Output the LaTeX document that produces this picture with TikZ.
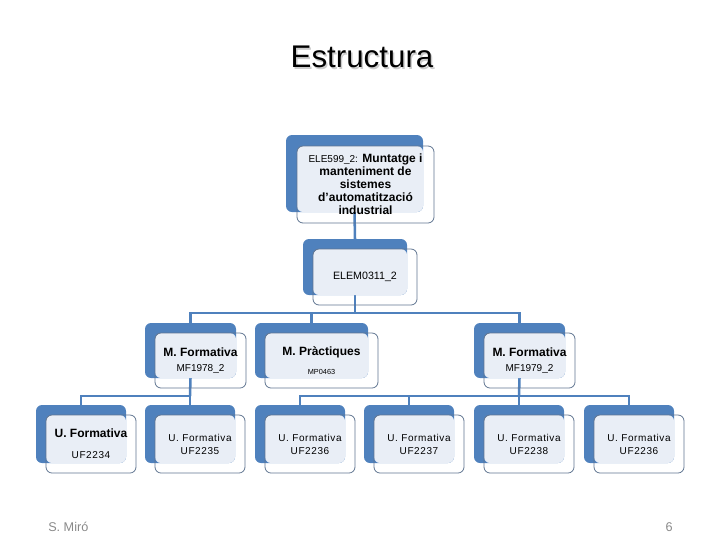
\documentclass[tikz,border=0pt]{standalone}
\usepackage{fontspec}
\setmainfont{Liberation Sans}
\newfontfamily\spacedfont[LetterSpace=6]{Liberation Sans}
\definecolor{blueback}{HTML}{4F81BD}
\definecolor{lightfill}{HTML}{E9EEF6}
\definecolor{frontline}{HTML}{5F7490}
\definecolor{footgray}{HTML}{898989}
\tikzset{
  backbox/.style={fill=blueback, rounded corners=4.5pt},
  lightbox/.style={fill=lightfill, rounded corners=4.5pt},
  frontbox/.style={draw=frontline, line width=0.6pt, rounded corners=4.5pt},
  boxtext/.style={inner sep=0pt, align=center, text=black},
  conn/.style={draw=blueback, line width=1.9pt},
}
% name, x, y, w, h, offset, font, text
\newcommand\orgbox[8]{%
  \fill[backbox] (#2,#3) rectangle ++(#4,#5);
  \fill[lightbox] (#2+#6,#3+#6) rectangle (#2+#4,#3+#5);
  \draw[frontbox] (#2+#6,#3+#6) rectangle ++(#4,#5);
  \node[boxtext, font=#7] (#1) at (#2+#6+#4/2,#3+#6+#5/2) {#8};
}
\newcommand\orgpts[5]{% name, x, y, w, h
  \coordinate (#1-t) at (#2+#4/2,#3);
  \coordinate (#1-b) at (#2+#4/2,#3+#5);
}
\newcommand\boldnine{\fontsize{9}{9.75}\selectfont\bfseries}
\newcommand\smallspaced{\spacedfont\fontsize{7.5}{9.75}\selectfont}
\begin{document}
\begin{tikzpicture}[x=0.75pt,y=-0.75pt]
\useasboundingbox (0,0) rectangle (720,540);
% title
\node[text=gray!40, font=\fontsize{23.5}{28}\selectfont] at (363.5,58.5) {Estructura};
\node (title) [text=black, font=\fontsize{23.5}{28}\selectfont] at (362,57) {Estructura};
% connector anchor points
\orgpts{top}{286}{135}{137}{77}
\orgpts{elem}{303}{239}{104}{56}
\orgpts{mf1}{145}{323}{91}{55}
\orgpts{mp}{255}{323}{113}{55}
\orgpts{mf2}{474}{323}{91}{55}
\orgpts{u1}{36}{405}{90}{58}
\orgpts{u2}{145}{405}{90}{58}
\orgpts{u3}{255}{405}{90}{58}
\orgpts{u4}{364}{405}{90}{58}
\orgpts{u5}{474}{405}{90}{58}
\orgpts{u6}{584}{405}{90}{58}
% connectors
\coordinate (barA) at (355,313);
\coordinate (barB) at (190,396);
\coordinate (barC) at (519,396);
\draw[conn] (top-b) -- (elem-t);
\draw[conn] (elem-b) -- (barA);
\draw[conn] (barA) -| (mf1-t);
\draw[conn] (barA) -| (mp-t);
\draw[conn] (barA) -| (mf2-t);
\draw[conn] (mf1-b) -- (barB);
\draw[conn] (barB) -| (u1-t);
\draw[conn] (barB) -| (u2-t);
\draw[conn] (mf2-b) -- (barC);
\draw[conn] (barC) -| (u3-t);
\draw[conn] (barC) -| (u4-t);
\draw[conn] (barC) -| (u5-t);
\draw[conn] (barC) -| (u6-t);
% boxes
\orgbox{topbox}{286}{135}{137}{77}{11}{\boldnine}{{\mdseries\fontsize{7.5}{9.75}\selectfont ELE599\_2:} Muntatge i\\manteniment de\\sistemes\\d'automatització\\industrial}
\orgbox{elembox}{303}{239}{104}{56}{10}{\fontsize{8}{10}\selectfont}{ELEM0311\_2}
\orgbox{mf1box}{145}{323}{91}{55}{10}{\fontsize{9}{10.5}\selectfont}{{\bfseries M. Formativa}\\[0.3pt]{\fontsize{7.5}{9}\selectfont MF1978\_2}}
\orgbox{mpbox}{255}{323}{113}{55}{10}{\fontsize{9}{10.5}\selectfont}{{\bfseries M. Pràctiques}\\[3.5pt]{\fontsize{5.5}{7}\selectfont MP0463}}
\orgbox{mf2box}{474}{323}{91}{55}{10}{\fontsize{9}{10.5}\selectfont}{{\bfseries M. Formativa}\\[0.3pt]{\fontsize{7.5}{9}\selectfont MF1979\_2}}
\orgbox{u1box}{36}{405}{90}{58}{10}{\fontsize{9}{10.5}\selectfont}{{\bfseries U. Formativa}\\[5.5pt]{\spacedfont\fontsize{7.5}{9}\selectfont UF2234}}
\orgbox{u2box}{145}{405}{90}{58}{10}{\smallspaced}{U. Formativa\\UF2235}
\orgbox{u3box}{255}{405}{90}{58}{10}{\smallspaced}{U. Formativa\\UF2236}
\orgbox{u4box}{364}{405}{90}{58}{10}{\smallspaced}{U. Formativa\\UF2237}
\orgbox{u5box}{474}{405}{90}{58}{10}{\smallspaced}{U. Formativa\\UF2238}
\orgbox{u6box}{584}{405}{90}{58}{10}{\smallspaced}{U. Formativa\\UF2236}
% footer
\node (author) [anchor=base west, inner sep=0pt, text=footgray, font=\fontsize{9.5}{11}\selectfont] at (48,531) {S. Miró};
\node (page) [anchor=base east, inner sep=0pt, text=footgray, font=\fontsize{9.5}{11}\selectfont] at (673,531) {6};
\end{tikzpicture}
\end{document}
